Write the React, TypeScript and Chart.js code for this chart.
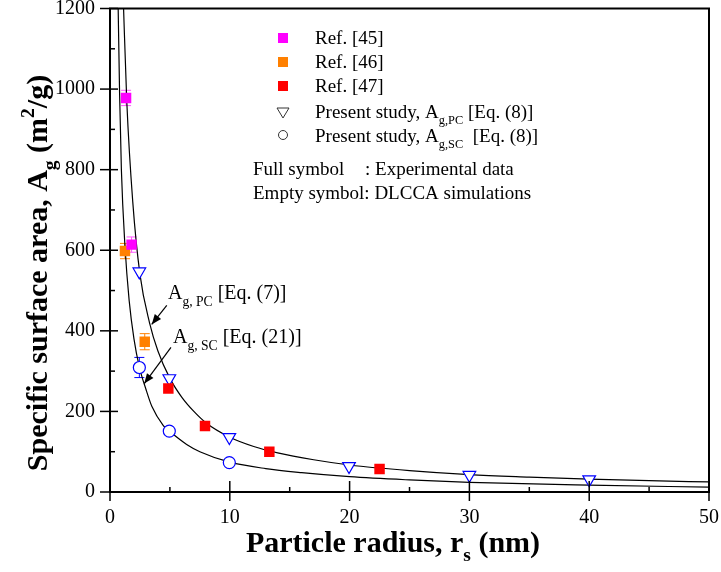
import React, { useEffect, useRef } from 'react';
import { Chart, registerables } from 'chart.js';

Chart.register(...registerables);

const FONT = '"Liberation Serif", "Times New Roman", Times, serif';

// ---- data ----
const ref45X = [1.34, 1.8];
const ref45Y = [978, 614];
const ref45Err = [19, 19];

const ref46X = [1.25, 2.9];
const ref46Y = [598, 373];
const ref46Err = [19, 20];

const ref47X = [4.87, 7.93, 13.3, 22.5];
const ref47Y = [257, 164, 100, 57];

const pcX = [2.45, 4.95, 9.96, 19.95, 30, 40];
const pcY = [547, 282, 136, 64, 42, 31];

const scX = [2.45, 4.95, 9.96];
const scY = [309, 151, 73];
const scErr = [25, 0, 0];

const pcCurveX = [1.1, 1.4, 1.9, 2.5, 3.3, 4, 5, 6, 7, 8, 10, 12, 14, 17, 20, 25, 30, 35, 40, 45, 50];
const pcCurveY = [1230, 970, 720, 540, 420, 350, 282, 235, 200, 172, 136, 113, 97, 80, 67, 53, 43, 37, 32, 28, 25];

const scCurveX = [0.65, 0.8, 0.95, 1.25, 1.6, 2, 2.45, 3, 3.5, 4.45, 5, 6.4, 7.5, 10, 13, 16, 20, 25, 30, 40, 50];
const scCurveY = [1260, 990, 800, 610, 475, 380, 310, 255, 212, 165, 150, 118, 100, 74, 58, 48, 38, 30, 24, 17, 12];

const xTickMax = 50;
const yTickMax = 1200;

const MAGENTA = '#ff00ff';
const ORANGE = '#ff8000';
const RED = '#ff0000';
const BLUE = '#0000ff';

const zip = (xs: number[], ys: number[]) => xs.map((x, i) => ({ x, y: ys[i] }));

type Seg = { t: string; k?: 'sub' | 'sup' };

function drawRich(
  ctx: CanvasRenderingContext2D,
  segs: Seg[],
  x: number,
  y: number,
  size: number,
  weight: string,
  align: 'left' | 'center',
  subScale = 0.65,
  subOff = 0.3,
  supOff = 0.42
) {
  const fontOf = (sg: Seg) => `${weight} ${sg.k ? size * subScale : size}px ${FONT}`;
  const widths = segs.map((sg) => {
    ctx.font = fontOf(sg);
    return ctx.measureText(sg.t).width;
  });
  const total = widths.reduce((a, b) => a + b, 0);
  let cx = align === 'center' ? x - total / 2 : x;
  ctx.textAlign = 'left';
  ctx.textBaseline = 'alphabetic';
  segs.forEach((sg, i) => {
    ctx.font = fontOf(sg);
    const dy = sg.k === 'sub' ? size * subOff : sg.k === 'sup' ? -size * supOff : 0;
    ctx.fillText(sg.t, cx, y + dy);
    cx += widths[i];
  });
}

function arrow(ctx: CanvasRenderingContext2D, x1: number, y1: number, x2: number, y2: number) {
  ctx.save();
  ctx.strokeStyle = '#000';
  ctx.fillStyle = '#000';
  ctx.lineWidth = 1.2;
  ctx.beginPath();
  ctx.moveTo(x1, y1);
  ctx.lineTo(x2, y2);
  ctx.stroke();
  const ang = Math.atan2(y2 - y1, x2 - x1);
  const L = 10;
  const W = 4;
  ctx.beginPath();
  ctx.moveTo(x2, y2);
  ctx.lineTo(x2 - L * Math.cos(ang) + W * Math.sin(ang), y2 - L * Math.sin(ang) - W * Math.cos(ang));
  ctx.lineTo(x2 - L * Math.cos(ang) - W * Math.sin(ang), y2 - L * Math.sin(ang) + W * Math.cos(ang));
  ctx.closePath();
  ctx.fill();
  ctx.restore();
}

const errorGroups = [
  { xs: ref45X, ys: ref45Y, err: ref45Err, color: '#ff55ff' },
  { xs: ref46X, ys: ref46Y, err: ref46Err, color: ORANGE },
  { xs: scX, ys: scY, err: scErr, color: BLUE },
];

const decorPlugin = {
  id: 'decor',
  beforeDatasetsDraw(chart: any) {
    const ctx: CanvasRenderingContext2D = chart.ctx;
    const xs = chart.scales.x;
    const ys = chart.scales.y;
    ctx.save();
    ctx.lineWidth = 1;
    errorGroups.forEach((g) => {
      ctx.strokeStyle = g.color;
      g.xs.forEach((xv, i) => {
        const e = g.err[i];
        if (!e) return;
        const px = xs.getPixelForValue(xv);
        const p1 = ys.getPixelForValue(g.ys[i] + e);
        const p2 = ys.getPixelForValue(g.ys[i] - e);
        ctx.beginPath();
        ctx.moveTo(px, p1);
        ctx.lineTo(px, p2);
        ctx.moveTo(px - 5, p1);
        ctx.lineTo(px + 5, p1);
        ctx.moveTo(px - 5, p2);
        ctx.lineTo(px + 5, p2);
        ctx.stroke();
      });
    });
    ctx.restore();
  },
  afterDraw(chart: any) {
    const ctx: CanvasRenderingContext2D = chart.ctx;
    const xs = chart.scales.x;
    const ys = chart.scales.y;
    const { left, right, top, bottom } = chart.chartArea;
    ctx.save();
    ctx.strokeStyle = '#000';
    ctx.fillStyle = '#000';

    // ticks
    ctx.lineWidth = 1.5;
    const xMaj: number[] = xs.ticks.map((t: any) => t.value);
    xMaj.forEach((v, i) => {
      const px = xs.getPixelForValue(v);
      ctx.beginPath();
      ctx.moveTo(px, bottom + 9);
      ctx.lineTo(px, bottom - 11);
      ctx.stroke();
      if (i < xMaj.length - 1) {
        const mx = xs.getPixelForValue((v + xMaj[i + 1]) / 2);
        ctx.beginPath();
        ctx.moveTo(mx, bottom);
        ctx.lineTo(mx, bottom - 5);
        ctx.stroke();
      }
    });
    const yMaj: number[] = ys.ticks.map((t: any) => t.value);
    yMaj.forEach((v, i) => {
      const py = ys.getPixelForValue(v);
      ctx.beginPath();
      ctx.moveTo(left - 10, py);
      ctx.lineTo(left + 8, py);
      ctx.stroke();
      if (i < yMaj.length - 1) {
        const my = ys.getPixelForValue((v + yMaj[i + 1]) / 2);
        ctx.beginPath();
        ctx.moveTo(left, my);
        ctx.lineTo(left + 5, my);
        ctx.stroke();
      }
    });

    // frame
    ctx.lineWidth = 2;
    ctx.strokeRect(left, top, right - left, bottom - top);

    // axis titles
    drawRich(
      ctx,
      [{ t: 'Particle radius, r' }, { t: 's', k: 'sub' }, { t: ' (nm)' }],
      393,
      552,
      30,
      'bold',
      'center'
    );
    ctx.save();
    ctx.translate(47, 273);
    ctx.rotate(-Math.PI / 2);
    drawRich(
      ctx,
      [
        { t: 'Specific surface area, A' },
        { t: 'g', k: 'sub' },
        { t: ' (m' },
        { t: '2', k: 'sup' },
        { t: '/g)' },
      ],
      0,
      0,
      30,
      'bold',
      'center'
    );
    ctx.restore();

    // legend
    const mx = 283;
    const tx = 315;
    const rows = [38, 62, 86, 112, 136];
    const sq = (cy: number, c: string) => {
      ctx.fillStyle = c;
      ctx.fillRect(mx - 5, cy - 5, 10, 10);
    };
    sq(rows[0], MAGENTA);
    sq(rows[1], ORANGE);
    sq(rows[2], RED);
    ctx.strokeStyle = '#333';
    ctx.lineWidth = 1;
    ctx.beginPath();
    ctx.moveTo(mx - 6, rows[3] - 4);
    ctx.lineTo(mx + 6, rows[3] - 4);
    ctx.lineTo(mx, rows[3] + 6);
    ctx.closePath();
    ctx.stroke();
    ctx.beginPath();
    ctx.arc(mx, rows[4] - 1, 4.5, 0, Math.PI * 2);
    ctx.stroke();
    ctx.fillStyle = '#000';
    const lf = 19;
    const bl = 6;
    drawRich(ctx, [{ t: 'Ref. [45]' }], tx, rows[0] + bl, lf, 'normal', 'left');
    drawRich(ctx, [{ t: 'Ref. [46]' }], tx, rows[1] + bl, lf, 'normal', 'left');
    drawRich(ctx, [{ t: 'Ref. [47]' }], tx, rows[2] + bl, lf, 'normal', 'left');
    drawRich(
      ctx,
      [{ t: 'Present study, A' }, { t: 'g,PC', k: 'sub' }, { t: ' [Eq. (8)]' }],
      tx,
      rows[3] + bl,
      lf,
      'normal',
      'left',
      0.65,
      0.32
    );
    drawRich(
      ctx,
      [{ t: 'Present study, A' }, { t: 'g,SC', k: 'sub' }, { t: '  [Eq. (8)]' }],
      tx,
      rows[4] + bl,
      lf,
      'normal',
      'left',
      0.65,
      0.32
    );
    drawRich(ctx, [{ t: 'Full symbol' }], 253, 175, lf, 'normal', 'left');
    drawRich(ctx, [{ t: ': Experimental data' }], 365, 175, lf, 'normal', 'left');
    drawRich(ctx, [{ t: 'Empty symbol: DLCCA simulations' }], 253, 199, lf, 'normal', 'left');

    // annotations (placed in data coordinates)
    const P = (x: number, y: number) => [xs.getPixelForValue(x), ys.getPixelForValue(y)];
    const [t1x, t1y] = P(4.84, 480);
    drawRich(
      ctx,
      [{ t: 'A' }, { t: 'g, PC', k: 'sub' }, { t: ' [Eq. (7)]' }],
      t1x,
      t1y,
      20,
      'normal',
      'left',
      0.68,
      0.35
    );
    const [t2x, t2y] = P(5.26, 369);
    drawRich(
      ctx,
      [{ t: 'A' }, { t: 'g, SC', k: 'sub' }, { t: ' [Eq. (21)]' }],
      t2x,
      t2y,
      20,
      'normal',
      'left',
      0.68,
      0.35
    );
    const [a1x, a1y] = P(4.74, 463);
    const [a1tx, a1ty] = P(3.48, 416);
    arrow(ctx, a1x, a1y, a1tx, a1ty);
    const [a2x, a2y] = P(5.09, 359);
    const [a2tx, a2ty] = P(2.86, 269);
    arrow(ctx, a2x, a2y, a2tx, a2ty);

    ctx.restore();
  },
};

export default function App() {
  const ref = useRef<HTMLCanvasElement>(null);
  useEffect(() => {
    if (!ref.current) return;
    const tickFont = { family: FONT, size: 20 };
    const chart = new Chart(ref.current, {
      type: 'scatter',
      data: {
        datasets: [
          {
            label: 'Ref. [45]',
            data: zip(ref45X, ref45Y),
            pointStyle: 'rect',
            pointRadius: 7.4,
            backgroundColor: MAGENTA,
            borderColor: MAGENTA,
            borderWidth: 0,
            order: 1,
          },
          {
            label: 'Ref. [46]',
            data: zip(ref46X, ref46Y),
            pointStyle: 'rect',
            pointRadius: 7.4,
            backgroundColor: ORANGE,
            borderColor: ORANGE,
            borderWidth: 0,
            order: 1,
          },
          {
            label: 'Ref. [47]',
            data: zip(ref47X, ref47Y),
            pointStyle: 'rect',
            pointRadius: 7.4,
            backgroundColor: RED,
            borderColor: RED,
            borderWidth: 0,
            order: 1,
          },
          {
            label: 'Present study, Ag,PC [Eq. (8)]',
            data: zip(pcX, pcY),
            pointStyle: 'triangle',
            rotation: 180,
            pointRadius: 7.3,
            backgroundColor: '#ffffff',
            borderColor: BLUE,
            borderWidth: 1.2,
            order: 1,
          },
          {
            label: 'Present study, Ag,SC [Eq. (8)]',
            data: zip(scX, scY),
            pointStyle: 'circle',
            pointRadius: 6,
            backgroundColor: '#ffffff',
            borderColor: BLUE,
            borderWidth: 1.2,
            order: 1,
          },
          {
            label: 'Ag,PC [Eq. (7)]',
            data: zip(pcCurveX, pcCurveY),
            showLine: true,
            pointRadius: 0,
            borderColor: '#000',
            borderWidth: 1.2,
            cubicInterpolationMode: 'monotone',
            order: 5,
          } as any,
          {
            label: 'Ag,SC [Eq. (21)]',
            data: zip(scCurveX, scCurveY),
            showLine: true,
            pointRadius: 0,
            borderColor: '#000',
            borderWidth: 1.2,
            cubicInterpolationMode: 'monotone',
            order: 5,
          } as any,
        ],
      },
      options: {
        responsive: false,
        animation: false,
        layout: { padding: { top: 7, right: 12, left: 0, bottom: 0 } },
        plugins: { legend: { display: false }, tooltip: { enabled: false } },
        scales: {
          x: {
            type: 'linear',
            min: 0,
            max: xTickMax,
            grid: { display: false, drawTicks: false },
            border: { display: false },
            ticks: {
              stepSize: 10,
              font: tickFont,
              color: '#000',
              padding: 14,
              maxRotation: 0,
              autoSkip: false,
              callback: (v: any) => String(v),
            },
            afterFit: (s: any) => {
              s.height = 80;
              s.paddingLeft = 0;
              s.paddingRight = 0;
            },
          },
          y: {
            type: 'linear',
            min: 0,
            max: yTickMax,
            grid: { display: false, drawTicks: false },
            border: { display: false },
            ticks: {
              stepSize: 200,
              font: tickFont,
              color: '#000',
              padding: 15,
              autoSkip: false,
              callback: (v: any) => String(v),
            },
            afterFit: (s: any) => {
              s.width = 110;
              s.paddingTop = 0;
              s.paddingBottom = 0;
            },
          },
        },
      },
      plugins: [decorPlugin],
    });
    return () => chart.destroy();
  }, []);
  return (
    <div style={{ position: 'absolute', left: 0, top: 0, width: 721, height: 572, background: '#fff' }}>
      <canvas ref={ref} width={721} height={572} style={{ display: 'block' }} />
    </div>
  );
}
